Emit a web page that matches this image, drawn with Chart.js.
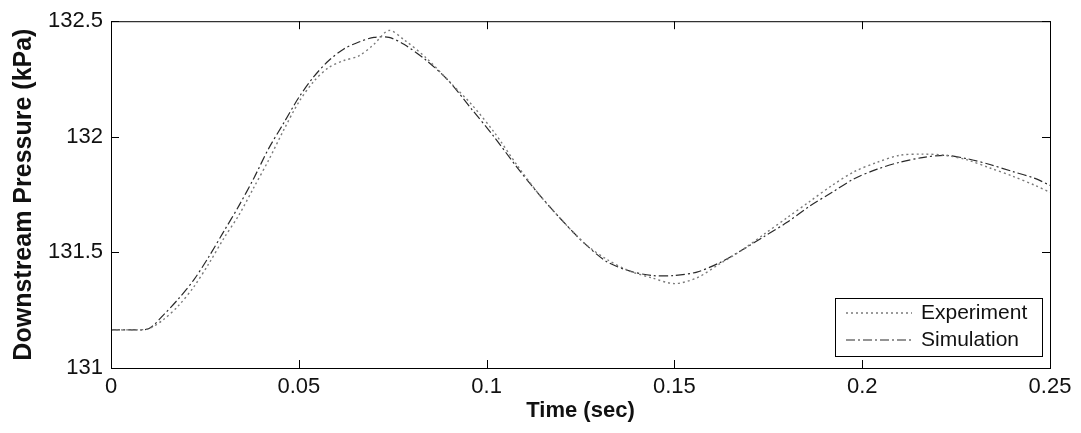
<!DOCTYPE html>
<html>
<head>
<meta charset="utf-8">
<script src="https://cdn.jsdelivr.net/npm/chart.js@4"></script>
<style>
  html, body { margin: 0; padding: 0; background: #fff; }
  #wrap { width: 1081px; height: 433px; }
</style>
</head>
<body>
<div id="wrap"><canvas id="pressureChart" width="1081" height="433"></canvas></div>
<script>
  // time samples (sec)
  let times = [0, 0.005, 0.010, 0.014, 0.018, 0.022, 0.026, 0.030, 0.034, 0.038,
    0.042, 0.046, 0.050, 0.054, 0.058, 0.062, 0.066, 0.070, 0.074, 0.078,
    0.084, 0.090, 0.096, 0.102, 0.108, 0.114, 0.120, 0.126, 0.132, 0.138,
    0.144, 0.150, 0.156, 0.162, 0.168, 0.174, 0.180, 0.186, 0.192, 0.198,
    0.204, 0.210, 0.216, 0.222, 0.228, 0.234, 0.240, 0.246, 0.250];

  // downstream pressure (kPa)
  let experiment = [131.165, 131.165, 131.17, 131.21, 131.27, 131.35, 131.45, 131.56, 131.66, 131.78,
    131.90, 132.03, 132.15, 132.24, 132.30, 132.33, 132.35, 132.40, 132.46, 132.42,
    132.34, 132.24, 132.14, 132.02, 131.88, 131.75, 131.64, 131.54, 131.47, 131.42,
    131.39, 131.365, 131.39, 131.45, 131.51, 131.58, 131.65, 131.72, 131.79, 131.85,
    131.89, 131.92, 131.925, 131.92, 131.90, 131.865, 131.83, 131.79, 131.76];

  let simulation = [131.165, 131.165, 131.17, 131.23, 131.30, 131.38, 131.48, 131.59, 131.70, 131.82,
    131.95, 132.06, 132.17, 132.26, 132.33, 132.38, 132.41, 132.43, 132.43, 132.40,
    132.33, 132.24, 132.12, 132.00, 131.87, 131.75, 131.64, 131.54, 131.46, 131.42,
    131.40, 131.40, 131.415, 131.455, 131.51, 131.57, 131.63, 131.70, 131.76, 131.82,
    131.86, 131.89, 131.91, 131.92, 131.905, 131.88, 131.85, 131.82, 131.79];

  let xTicks = [0, 0.05, 0.1, 0.15, 0.2, 0.25];
  let yTicks = [131, 131.5, 132, 132.5];

  const FONT = '"Liberation Sans", Arial, Helvetica, sans-serif';

  // MATLAB style frame: box, inward ticks, framed legend
  const matlabFrame = {
    id: 'matlabFrame',
    afterDraw(chart) {
      const c = chart.ctx;
      const a = chart.chartArea;
      const xs = chart.scales.x, ys = chart.scales.y;
      c.save();
      c.strokeStyle = '#000';
      c.lineWidth = 1;
      c.strokeRect(a.left + 0.5, a.top + 0.5, a.right - a.left, a.bottom - a.top);
      c.beginPath();
      xTicks.forEach(v => {
        const px = Math.round(xs.getPixelForValue(v)) + 0.5;
        c.moveTo(px, a.bottom); c.lineTo(px, a.bottom - 8);
        c.moveTo(px, a.top); c.lineTo(px, a.top + 8);
      });
      yTicks.forEach(v => {
        const py = Math.round(ys.getPixelForValue(v)) + 0.5;
        c.moveTo(a.left, py); c.lineTo(a.left + 8, py);
        c.moveTo(a.right, py); c.lineTo(a.right - 8, py);
      });
      c.stroke();

      // legend
      const bx = 835, by = 298, bw = 207, bh = 58;
      c.fillStyle = '#fff';
      c.fillRect(bx, by, bw, bh);
      c.strokeRect(bx + 0.5, by + 0.5, bw, bh);
      c.font = '21px ' + FONT;
      c.textBaseline = 'middle';
      chart.data.datasets.forEach((ds, i) => {
        const ly = by + 15 + i * 27;
        c.beginPath();
        c.strokeStyle = ds.borderColor;
        c.lineWidth = ds.borderWidth;
        c.setLineDash(ds.borderDash);
        c.moveTo(846, ly); c.lineTo(912, ly);
        c.stroke();
        c.setLineDash([]);
        c.fillStyle = '#111';
        c.fillText(ds.label, 921, ly);
      });
      c.restore();
    }
  };

  let ctx = document.getElementById('pressureChart').getContext('2d');

  let pressureChart = new Chart(ctx, {
    type: 'line',
    data: {
      datasets: [{
        label: 'Experiment',
        data: times.map((t, i) => ({ x: t, y: experiment[i] })),
        borderColor: '#7a7a7a',
        borderWidth: 1.4,
        borderDash: [2, 3],
        pointRadius: 0,
        tension: 0.3,
        fill: false
      }, {
        label: 'Simulation',
        data: times.map((t, i) => ({ x: t, y: simulation[i] })),
        borderColor: '#2a2a2a',
        borderWidth: 1.2,
        borderDash: [9, 3, 2, 3],
        pointRadius: 0,
        tension: 0.3,
        fill: false
      }]
    },
    options: {
      responsive: false,
      animation: false,
      layout: { padding: { left: 0, right: 31, top: 16, bottom: 0 } },
      plugins: { legend: { display: false }, tooltip: { enabled: false } },
      scales: {
        x: {
          type: 'linear',
          min: 0, max: 0.25,
          afterBuildTicks: s => { s.ticks = xTicks.map(v => ({ value: v })); },
          afterFit: s => { s.height = 65; },
          grid: { display: false, drawTicks: false },
          border: { display: true, color: '#000' },
          ticks: {
            padding: 6,
            color: '#111',
            font: { family: FONT, size: 22 },
            callback: v => String(Number(v.toFixed(2)))
          },
          title: {
            display: true,
            text: 'Time (sec)',
            color: '#111',
            font: { family: FONT, size: 22, weight: 'bold' },
            padding: { top: 0, bottom: 9 }
          }
        },
        y: {
          min: 131, max: 132.5,
          afterBuildTicks: s => { s.ticks = yTicks.map(v => ({ value: v })); },
          afterFit: s => { s.width = 111; },
          grid: { display: false, drawTicks: false },
          border: { display: true, color: '#000' },
          ticks: {
            padding: 8,
            color: '#111',
            font: { family: FONT, size: 22 },
            callback: v => String(Number(v.toFixed(1)))
          },
          title: {
            display: true,
            text: 'Downstream Pressure (kPa)',
            color: '#111',
            font: { family: FONT, size: 25, weight: 'bold' },
            padding: { top: 9, bottom: 0 }
          }
        }
      }
    },
    plugins: [matlabFrame]
  });
</script>
</body>
</html>
